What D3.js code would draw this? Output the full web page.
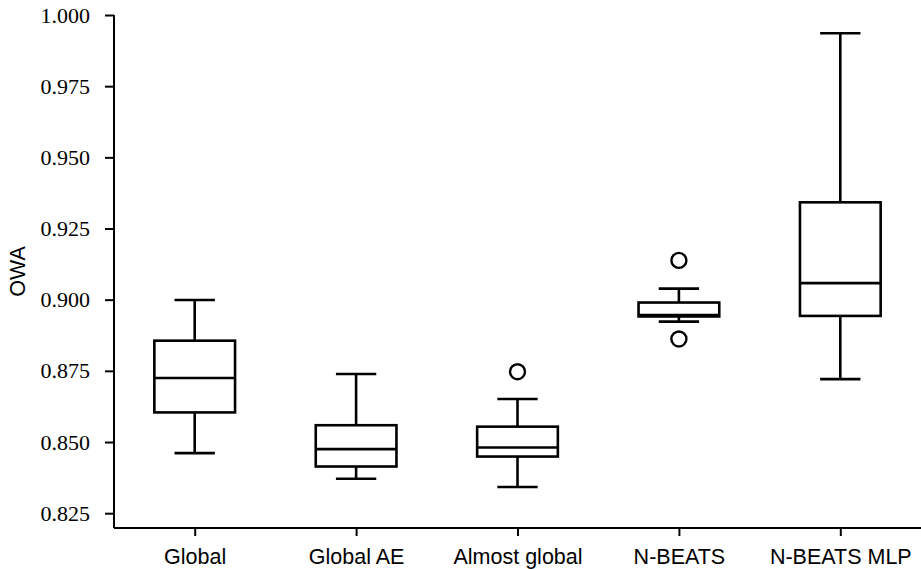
<!DOCTYPE html>
<html>
<head>
<meta charset="utf-8">
<script src="https://cdn.jsdelivr.net/npm/d3@7"></script>
<style>
html,body{margin:0;padding:0;background:#fff;}
svg{display:block;}
</style>
</head>
<body>
<svg id="chart" width="921" height="569"></svg>
<script>
// ---- data ----
const categories = ["Global", "Global AE", "Almost global", "N-BEATS", "N-BEATS MLP"];
const whiskerLow  = [0.8461, 0.8371, 0.8342, 0.8923, 0.8721];
const q1          = [0.8604, 0.8414, 0.8449, 0.8941, 0.8943];
const median      = [0.8725, 0.8475, 0.8481, 0.8946, 0.9058];
const q3          = [0.8856, 0.8559, 0.8554, 0.8990, 0.9342];
const whiskerHigh = [0.8999, 0.8739, 0.8651, 0.9039, 0.9936];
const outliers    = [[], [], [0.8747], [0.9138, 0.8862], []];
const yTicks = [0.825, 0.850, 0.875, 0.900, 0.925, 0.950, 0.975, 1.000];
const yLabel = "OWA";

// ---- layout ----
(function () {
const svg = d3.select("#chart");
const mLeft = 114, mRight = 921, mTop = 15, mBottom = 528;

const x = d3.scaleLinear().domain([0.5, 5.5]).range([mLeft, mRight]);
const y = d3.scaleLinear().domain([0.8198, 1.0]).range([mBottom, mTop]);

const boxW = 0.5, capW = 0.25;
const lw = 2.6;
const serif = '"Liberation Serif"';
const sans = '"Liberation Sans"';

// axes
const yAxis = d3.axisLeft(y).tickValues(yTicks).tickFormat(d3.format(".3f")).tickSize(9).tickPadding(15);
const gy = svg.append("g").attr("transform", `translate(${mLeft},0)`).call(yAxis)
  .attr("font-family", "Liberation Serif").attr("font-size", 22);
gy.select(".domain").attr("d", `M0,${mTop}V${mBottom}`);
gy.selectAll("text").style("font-family", serif).style("font-size", "22px").attr("fill", "#000");

const xAxis = d3.axisBottom(x).tickValues(categories.map((c, i) => i + 1)).tickFormat((d) => categories[d - 1]).tickSize(8);
const gx = svg.append("g").attr("transform", `translate(0,${mBottom})`).call(xAxis)
  .attr("font-family", "Liberation Sans").attr("font-size", 21.5);
gx.select(".domain").attr("d", `M${mLeft},0H${mRight}`);
gx.selectAll("text").style("font-family", sans).style("font-size", "21.5px").attr("fill", "#000").attr("y", 35.7).attr("dy", 0);

svg.selectAll(".domain").attr("stroke", "#000").attr("stroke-width", 2);
svg.selectAll(".tick line").attr("stroke", "#000").attr("stroke-width", 2);

svg.append("text")
  .attr("transform", `translate(25,${(mTop + mBottom) / 2}) rotate(-90)`)
  .attr("text-anchor", "middle")
  .style("font-family", sans)
  .style("font-size", "21.5px")
  .text(yLabel);

// boxes
const g = svg.append("g").attr("fill", "none").attr("stroke", "#000").attr("stroke-width", lw);
categories.forEach((c, i) => {
  const p = i + 1;
  g.append("line").attr("x1", x(p)).attr("x2", x(p)).attr("y1", y(q3[i])).attr("y2", y(whiskerHigh[i]));
  g.append("line").attr("x1", x(p)).attr("x2", x(p)).attr("y1", y(q1[i])).attr("y2", y(whiskerLow[i]));
  g.append("line").attr("x1", x(p - capW / 2)).attr("x2", x(p + capW / 2)).attr("y1", y(whiskerHigh[i])).attr("y2", y(whiskerHigh[i]));
  g.append("line").attr("x1", x(p - capW / 2)).attr("x2", x(p + capW / 2)).attr("y1", y(whiskerLow[i])).attr("y2", y(whiskerLow[i]));
  g.append("rect")
    .attr("x", x(p - boxW / 2)).attr("width", x(p + boxW / 2) - x(p - boxW / 2))
    .attr("y", y(q3[i])).attr("height", y(q1[i]) - y(q3[i]))
    .attr("fill", "#fff");
  g.append("line").attr("x1", x(p - boxW / 2)).attr("x2", x(p + boxW / 2)).attr("y1", y(median[i])).attr("y2", y(median[i]));
  outliers[i].forEach(v => {
    g.append("circle").attr("cx", x(p)).attr("cy", y(v)).attr("r", 7.5).attr("stroke-width", 2.4);
  });
});
})();
</script>
</body>
</html>
